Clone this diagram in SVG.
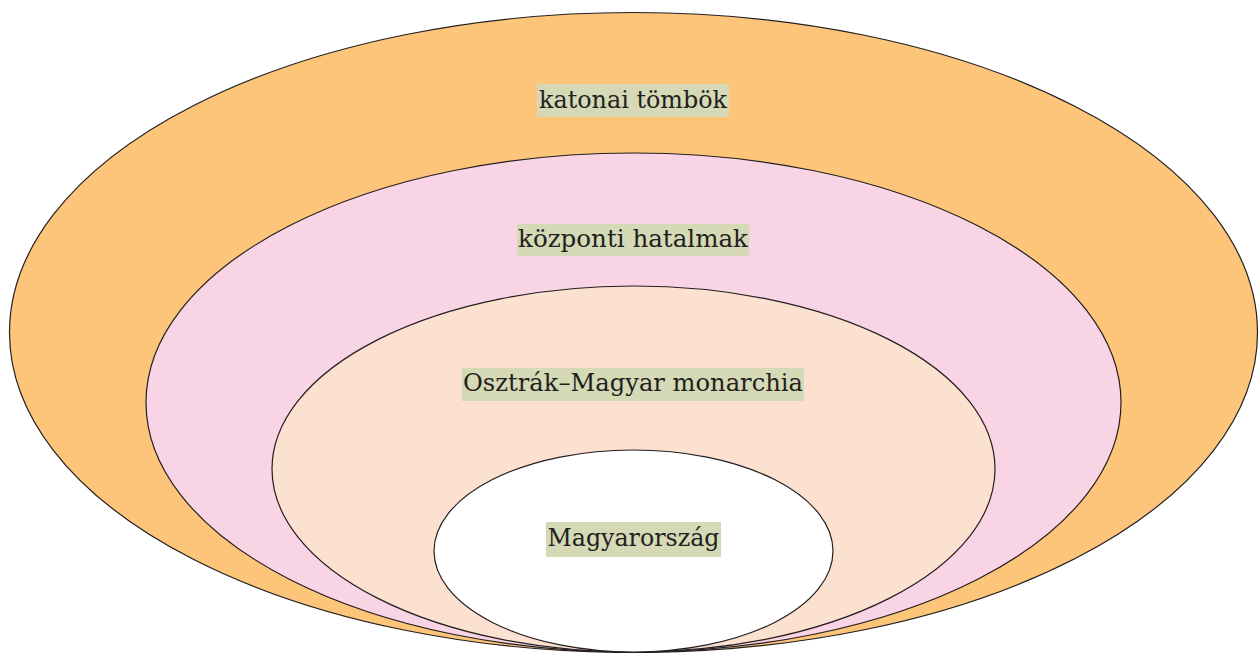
<svg xmlns="http://www.w3.org/2000/svg" width="1260" height="653" viewBox="0 0 1260 653">
<style>
.e{stroke:#231f20;stroke-width:1.2}
.bg{fill:#d5d9b6}
.t{font-family:"DejaVu Serif","Liberation Serif",serif;font-size:24px;fill:#231f20;text-anchor:middle}
</style>
<rect width="1260" height="653" fill="#ffffff"/>
<g id="katonai-tombok">
<ellipse class="e" cx="633.5" cy="332.5" rx="624" ry="320" fill="#fcc57a"/>
<rect class="bg" x="537" y="84" width="192" height="33"/>
<text class="t" x="633" y="108" textLength="188" lengthAdjust="spacingAndGlyphs">katonai tömbök</text>
</g>
<g id="kozponti-hatalmak">
<ellipse class="e" cx="633.5" cy="402.5" rx="487.5" ry="249.5" fill="#f9d4e5"/>
<rect class="bg" x="517" y="224" width="232" height="32"/>
<text class="t" x="633" y="247" textLength="230" lengthAdjust="spacingAndGlyphs">központi hatalmak</text>
</g>
<g id="osztrak-magyar">
<ellipse class="e" cx="633.5" cy="469" rx="361.5" ry="183" fill="#fce0d0"/>
<rect class="bg" x="462" y="368" width="342" height="33"/>
<text class="t" x="633" y="391" textLength="340" lengthAdjust="spacingAndGlyphs">Osztrák–Magyar monarchia</text>
</g>
<g id="magyarorszag">
<ellipse class="e" cx="633.5" cy="551" rx="199.5" ry="101" fill="#ffffff"/>
<rect class="bg" x="546" y="522" width="175" height="35"/>
<text class="t" x="633.5" y="546" textLength="172" lengthAdjust="spacingAndGlyphs">Magyarország</text>
</g>
<g id="connectors"/>
</svg>
